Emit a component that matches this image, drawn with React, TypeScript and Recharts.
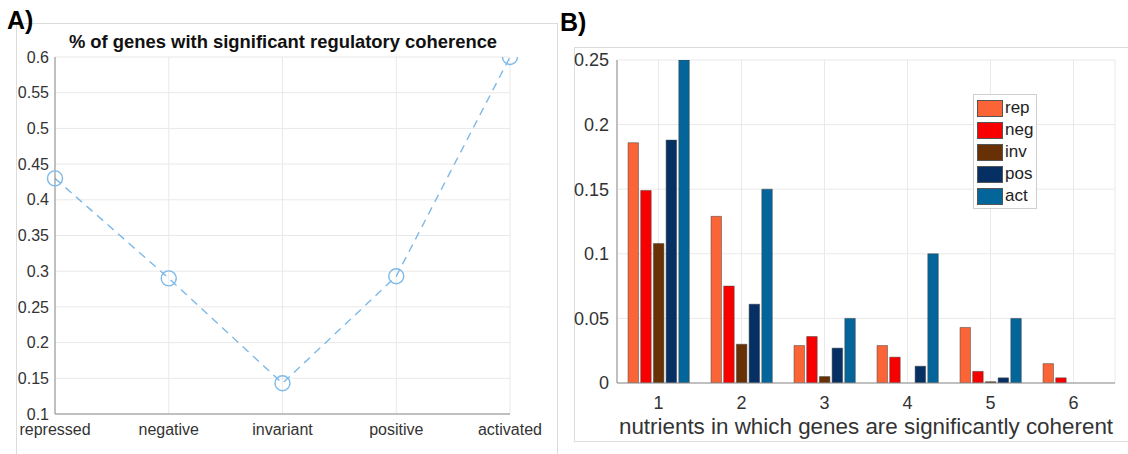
import { LineChart, Line, BarChart, Bar, XAxis, YAxis, CartesianGrid, Legend } from 'recharts';

// panel A: share of genes with significant regulatory coherence
const classes = ['repressed', 'negative', 'invariant', 'positive', 'activated'];
const coherentShare = [0.43, 0.29, 0.143, 0.293, 0.6];
const shareTicks = [0.1, 0.15, 0.2, 0.25, 0.3, 0.35, 0.4, 0.45, 0.5, 0.55, 0.6];

// panel B: fraction of genes per number of nutrients
const nutrientCounts = ['1', '2', '3', '4', '5', '6'];
const rep = [0.186, 0.129, 0.029, 0.029, 0.043, 0.015];
const neg = [0.149, 0.075, 0.036, 0.02, 0.009, 0.004];
const inv = [0.108, 0.03, 0.005, 0, 0.001, 0];
const pos = [0.188, 0.061, 0.027, 0.013, 0.004, 0];
const act = [0.25, 0.15, 0.05, 0.1, 0.05, 0];
const fractionTicks = [0, 0.05, 0.1, 0.15, 0.2, 0.25];

const seriesNames = ['rep', 'neg', 'inv', 'pos', 'act'];
const seriesColors = ['#fa6436', '#f90000', '#673005', '#063064', '#03659a'];

const lineData = classes.map((name, i) => ({ name, value: coherentShare[i] }));
const barData = nutrientCounts.map((n, i) => ({
  n,
  rep: rep[i],
  neg: neg[i],
  inv: inv[i],
  pos: pos[i],
  act: act[i],
}));

const FONT = '"Liberation Sans", Arial, Helvetica, sans-serif';
const TXT = '#333333';
const BOX = '#8c8c8c';
const GRID = '#e9e9e9';

const LegendBox = () => (
  <div
    style={{
      border: '1px solid #cfcfcf',
      background: '#fff',
      padding: '2px 3px 1px 3px',
      fontFamily: FONT,
      fontSize: 17,
      color: '#222',
      lineHeight: '22px',
    }}
  >
    {seriesNames.map((s, i) => (
      <div key={s} style={{ display: 'flex', alignItems: 'center', height: 22 }}>
        <span
          style={{
            display: 'inline-block',
            width: 24,
            height: 15,
            background: seriesColors[i],
            border: '1px solid #555',
            marginRight: 2,
          }}
        />
        {s}
      </div>
    ))}
  </div>
);

export default function App() {
  return (
    <div style={{ position: 'absolute', left: 0, top: 0, width: 1128, height: 454, background: '#fff', overflow: 'hidden', fontFamily: FONT }}>
      {/* panel frames */}
      <div style={{ position: 'absolute', left: 16, top: 23, width: 540, height: 460, border: '1px solid #dcdcdc' }} />
      <div style={{ position: 'absolute', left: 574, top: 47, width: 580, height: 393, border: '1px solid #dcdcdc' }} />

      <div style={{ position: 'absolute', left: 7, top: 6, fontSize: 25, fontWeight: 'bold', color: '#000' }}>A)</div>
      <div style={{ position: 'absolute', left: 560, top: 8, fontSize: 25, fontWeight: 'bold', color: '#000' }}>B)</div>

      <div style={{ position: 'absolute', left: 0, top: 0 }}>
        <LineChart width={560} height={454} data={lineData} margin={{ top: 57, right: 50, bottom: 10, left: 0 }}>
          <CartesianGrid stroke={GRID} />
          <XAxis
            dataKey="name"
            height={30}
            tickLine={false}
            tickMargin={4}
            axisLine={{ stroke: BOX }}
            tick={{ fill: TXT, fontSize: 16, fontFamily: FONT }}
            interval={0}
          />
          <XAxis xAxisId="top" dataKey="name" orientation="top" height={0} tick={false} tickLine={false} axisLine={{ stroke: BOX }} />
          <YAxis
            domain={[0.1, 0.6]}
            ticks={shareTicks}
            width={55}
            tickSize={4}
            tickLine={false}
            axisLine={{ stroke: BOX }}
            tick={{ fill: TXT, fontSize: 16, fontFamily: FONT }}
            allowDataOverflow
          />
          <YAxis yAxisId="right" orientation="right" width={0} domain={[0.1, 0.6]} tick={false} tickLine={false} axisLine={{ stroke: BOX }} />
          <Line
            type="linear"
            dataKey="value"
            stroke="#7db9e8"
            strokeWidth={1.4}
            strokeDasharray="8 6"
            dot={{ r: 7.5, fill: 'none', stroke: '#7db9e8', strokeWidth: 1.4, strokeDasharray: '' }}
            isAnimationActive={false}
          />
        </LineChart>
      </div>
      <div style={{ position: 'absolute', left: 0, top: 31, width: 566, textAlign: 'center', fontSize: 18.4, fontWeight: 'bold', color: '#111', whiteSpace: 'nowrap' }}>
        % of genes with significant regulatory coherence
      </div>

      <div style={{ position: 'absolute', left: 560, top: 0 }}>
        <BarChart
          width={568}
          height={454}
          data={barData}
          margin={{ top: 60, right: 13, bottom: 51, left: 0 }}
          barCategoryGap={11}
          barGap={2.2}
        >
          <CartesianGrid stroke={GRID} />
          <XAxis
            dataKey="n"
            height={20}
            tickSize={6}
            tickMargin={7}
            tickLine={false}
            axisLine={{ stroke: BOX }}
            tick={{ fill: TXT, fontSize: 18, fontFamily: FONT }}
          />
          <XAxis xAxisId="top" dataKey="n" orientation="top" height={0} tick={false} tickLine={false} axisLine={{ stroke: BOX }} />
          <YAxis
            domain={[0, 0.25]}
            ticks={fractionTicks}
            width={57}
            tickLine={false}
            axisLine={{ stroke: BOX }}
            tick={{ fill: TXT, fontSize: 18, fontFamily: FONT }}
            allowDataOverflow
          />
          <YAxis yAxisId="right" orientation="right" width={0} domain={[0, 0.25]} tick={false} tickLine={false} axisLine={{ stroke: BOX }} />
          <Legend
            layout="vertical"
            align="center"
            verticalAlign="middle"
            content={() => <LegendBox />}
            wrapperStyle={{ left: 413, top: 94, width: 'auto' }}
          />
          {seriesNames.map((s, i) => (
            <Bar key={s} dataKey={s} fill={seriesColors[i]} stroke="#444" strokeWidth={0.5} barSize={10.5} isAnimationActive={false} />
          ))}
        </BarChart>
      </div>
      <div style={{ position: 'absolute', left: 560 + 57, top: 414, width: 498, textAlign: 'center', fontSize: 22.4, color: TXT, whiteSpace: 'nowrap' }}>
        nutrients in which genes are significantly coherent
      </div>
    </div>
  );
}
